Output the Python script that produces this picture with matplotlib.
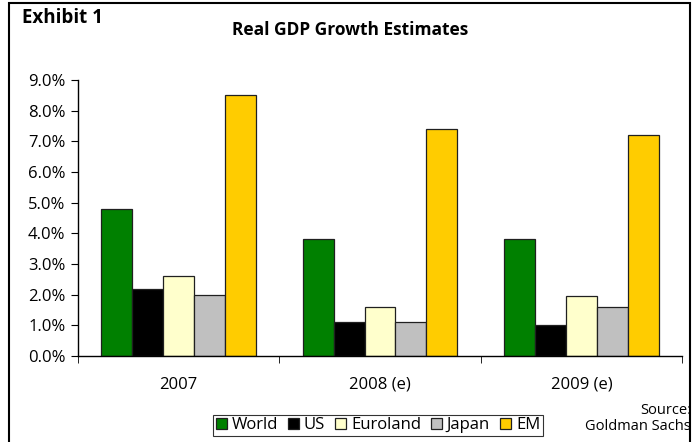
import matplotlib.pyplot as plt
from matplotlib.patches import Rectangle
from matplotlib.ticker import FuncFormatter
import numpy as np

# data (%)
years = ["2007", "2008 (e)", "2009 (e)"]
series = ["World", "US", "Euroland", "Japan", "EM"]
world = [4.8, 3.8, 3.8]
us = [2.2, 1.1, 1.0]
euroland = [2.6, 1.6, 1.95]
japan = [2.0, 1.1, 1.6]
em = [8.5, 7.4, 7.2]
colors = ["#008000", "#000000", "#FFFFCC", "#C0C0C0", "#FFCC00"]

plt.rcParams['font.family'] = ['Open Sans', 'DejaVu Sans']

fig = plt.figure(figsize=(6.92, 4.42), dpi=100)
ax = fig.add_axes([78 / 692, 86 / 442, 604 / 692, 276 / 442])

values = [world, us, euroland, japan, em]
n = len(series)
bw = 1.0 / (n + 1.5)
x = np.arange(len(years))
for i, (name, vals) in enumerate(zip(series, values)):
    offs = (i - (n - 1) / 2) * bw
    ax.bar(x + offs, vals, width=bw, color=colors[i], edgecolor="#202020",
           linewidth=0.9, label=name)

ax.set_xlim(-0.5, len(years) - 0.5)
ax.set_ylim(0, 9)
ax.set_yticks(np.arange(0, 9.5, 1))
ax.yaxis.set_major_formatter(FuncFormatter(lambda v, p: f"{v:.1f}%"))
ax.set_xticks(x)
ax.set_xticklabels(years)
ax.set_xticks(np.arange(-0.5, len(years), 1), minor=True)
ax.tick_params(axis="x", which="major", length=0, pad=15, labelsize=12)
ax.tick_params(axis="x", which="minor", length=5, direction="out")
ax.tick_params(axis="y", length=5, direction="out", pad=4, labelsize=12)
for s in ["top", "right"]:
    ax.spines[s].set_visible(False)
for s in ["left", "bottom"]:
    ax.spines[s].set_linewidth(1.0)

fig.text(22 / 692, 1 - 18 / 442, "Exhibit 1", fontsize=13.5, fontweight="bold",
         va="center", ha="left")
fig.text(350 / 692, 1 - 30 / 442, "Real GDP Growth Estimates", fontsize=12.5,
         fontweight="bold", va="center", ha="center")

leg = fig.legend(loc="center", bbox_to_anchor=(378 / 692, 1 - 425 / 442), ncol=5,
                 frameon=True, fancybox=False, edgecolor="black", fontsize=12,
                 handlelength=0.65, handleheight=0.65, handletextpad=0.3,
                 columnspacing=0.6, borderpad=0.15, borderaxespad=0)
leg.get_frame().set_linewidth(0.8)

fig.text(691 / 692, 1 - 410 / 442, "Source:", fontsize=10.5, ha="right", va="center")
fig.text(691 / 692, 1 - 427 / 442, "Goldman Sachs", fontsize=10.5, ha="right", va="center")

fig.add_artist(Rectangle((9 / 692, -0.05), 681 / 692, 1.05 - 3 / 442,
                         transform=fig.transFigure, fill=False,
                         edgecolor="black", linewidth=1.5))

fig.savefig("out.png", dpi=100)
